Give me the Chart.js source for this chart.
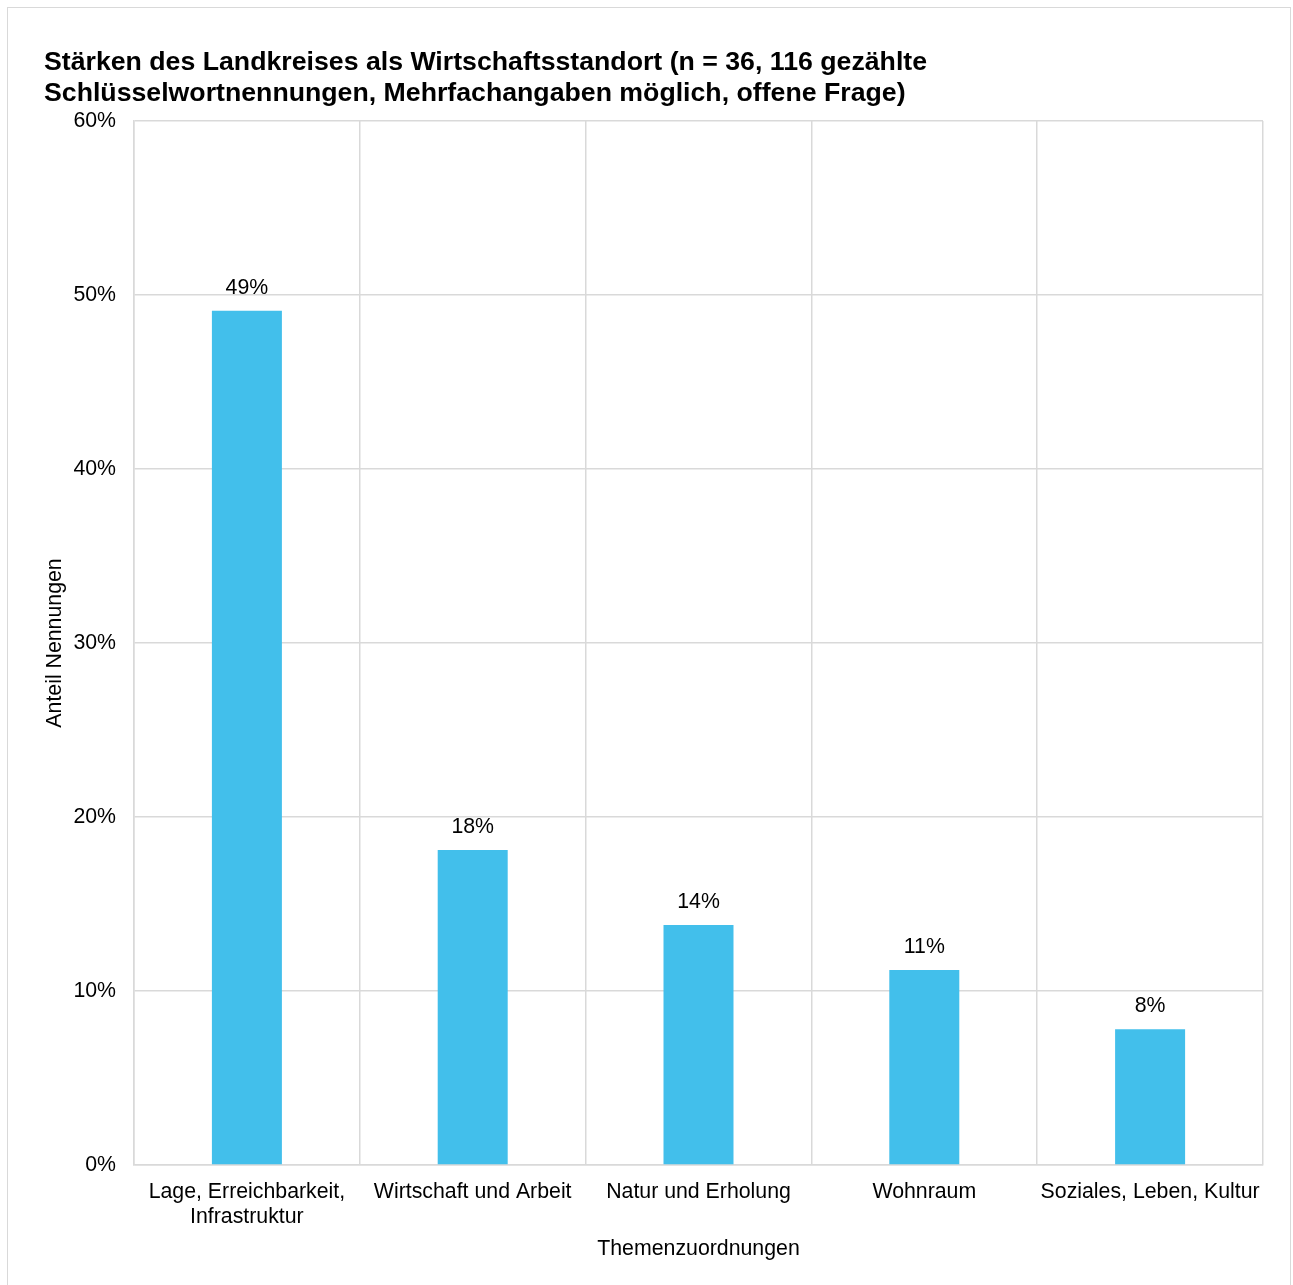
<!DOCTYPE html>
<html>
<head>
<meta charset="utf-8">
<script src="https://cdn.jsdelivr.net/npm/chart.js@4/dist/chart.umd.min.js"></script>
<style>
  html, body { margin: 0; padding: 0; background: #fff; overflow: hidden; }
  #frame { position: absolute; left: 7px; top: 7px; width: 1282px; height: 1300px; border: 1.5px solid #d9d9d9; pointer-events: none; }
  #wrap { position: absolute; left: 0; top: 0; width: 1293px; height: 1285px; }
</style>
</head>
<body>
<div id="frame"></div>
<div id="wrap"><canvas id="c" width="1293" height="1285"></canvas></div>
<script>
const categories = [
  ["Lage, Erreichbarkeit,", "Infrastruktur"],
  "Wirtschaft und Arbeit",
  "Natur und Erholung",
  "Wohnraum",
  "Soziales, Leben, Kultur"
];
const shares = [49.1, 18.1, 13.8, 11.2, 7.8];
const yTicks = [0, 10, 20, 30, 40, 50, 60];
const titleLines = [
  "Stärken des Landkreises als Wirtschaftsstandort (n = 36, 116 gezählte",
  "Schlüsselwortnennungen, Mehrfachangaben möglich, offene Frage)"
];
const yTitle = "Anteil Nennungen";
const xTitle = "Themenzuordnungen";

const FONT = "'Liberation Sans', Arial, sans-serif";
const GRID = "#d9d9d9";
const FS = 21.3;

const valueLabels = {
  id: "valueLabels",
  afterDatasetsDraw(chart) {
    const ctx = chart.ctx;
    const meta = chart.getDatasetMeta(0);
    ctx.save();
    ctx.font = FS + "px " + FONT;
    ctx.fillStyle = "#000";
    ctx.textAlign = "center";
    ctx.textBaseline = "middle";
    meta.data.forEach((bar, i) => {
      ctx.fillText(Math.round(shares[i]) + "%", bar.x, bar.y - 23);
    });
    ctx.restore();
  }
};

new Chart(document.getElementById("c"), {
  type: "bar",
  data: {
    labels: categories,
    datasets: [{
      data: shares,
      backgroundColor: "#42BFEB",
      borderWidth: 0,
      barPercentage: 0.31,
      categoryPercentage: 1
    }]
  },
  options: {
    responsive: false,
    animation: false,
    layout: { padding: { left: 44, top: 47, right: 30, bottom: 0 } },
    plugins: {
      legend: { display: false },
      tooltip: { enabled: false },
      title: {
        display: true,
        text: titleLines,
        align: "start",
        color: "#000",
        font: { family: FONT, size: 26.7, weight: "bold", lineHeight: 31 / 26.7 },
        padding: { top: 0, bottom: 12 }
      }
    },
    scales: {
      x: {
        grid: { color: GRID, lineWidth: 1.5, drawTicks: false, offset: true },
        border: { color: GRID, width: 1.5 },
        ticks: { color: "#000", font: { family: FONT, size: FS }, padding: 14, maxRotation: 0, autoSkip: false },
        title: { display: true, text: xTitle, color: "#000", font: { family: FONT, size: FS }, padding: { top: 4, bottom: 23 } },
        afterFit(scale) { scale.height = 120; }
      },
      y: {
        min: 0, max: 60,
        afterBuildTicks(scale) { scale.ticks = yTicks.map(v => ({ value: v })); },
        grid: { color: GRID, lineWidth: 1.5, drawTicks: false },
        border: { color: GRID, width: 1.5 },
        ticks: { color: "#000", font: { family: FONT, size: FS }, padding: 18, callback: v => v + "%" },
        title: { display: true, text: yTitle, color: "#000", font: { family: FONT, size: FS, lineHeight: 1 }, padding: 0 },
        afterFit(scale) { scale.width = 90; }
      }
    }
  },
  plugins: [valueLabels]
});
</script>
</body>
</html>
